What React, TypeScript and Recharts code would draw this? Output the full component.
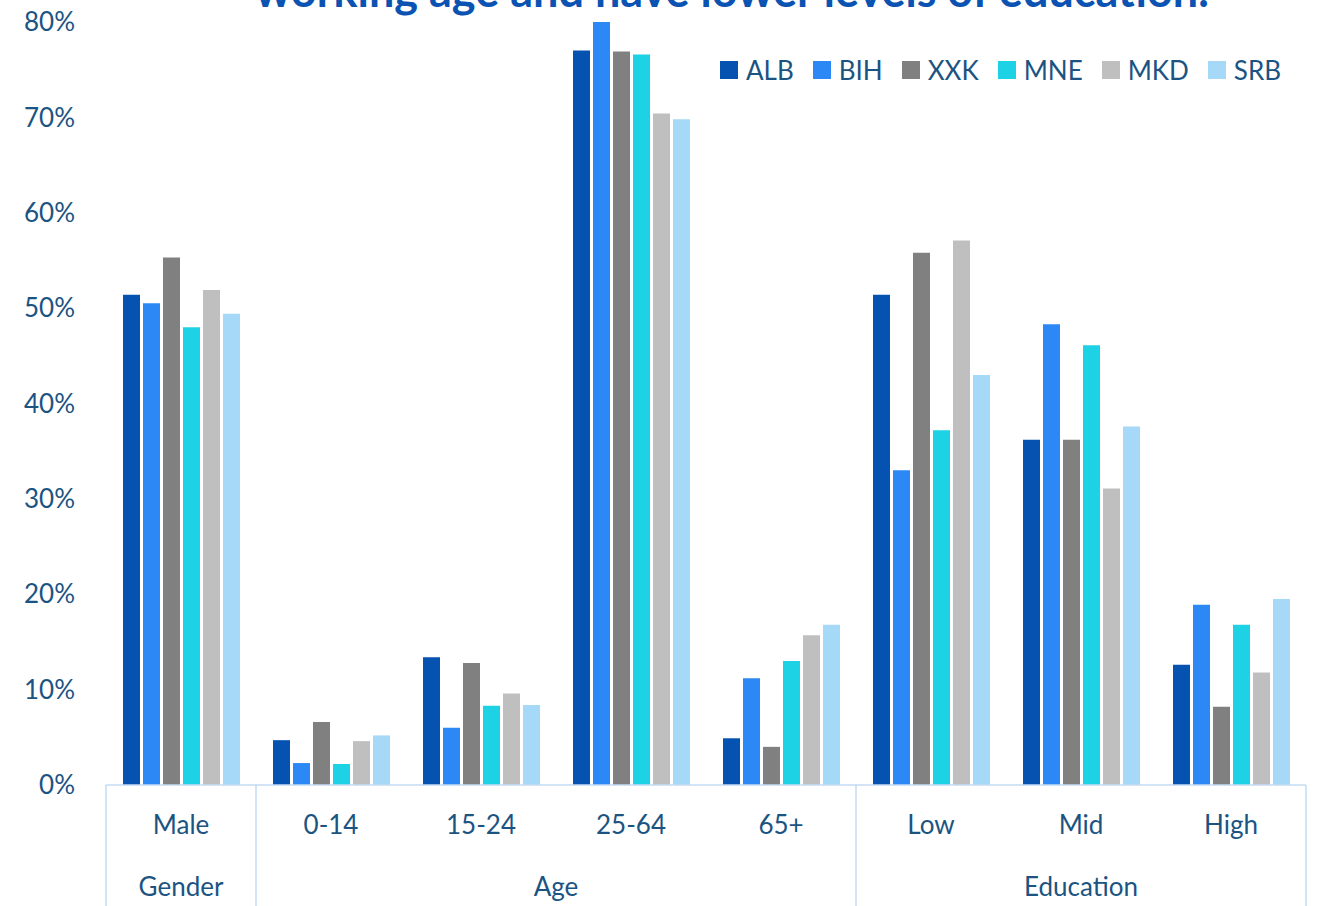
import { BarChart, Bar, XAxis, YAxis } from "recharts";

const categories = ["Male", "0-14", "15-24", "25-64", "65+", "Low", "Mid", "High"];
const groups = ["Gender", "Age", "Age", "Age", "Age", "Education", "Education", "Education"];

const alb = [51.4, 4.7, 13.4, 77.0, 4.9, 51.4, 36.2, 12.6];
const bih = [50.5, 2.3, 6.0, 80.0, 11.2, 33.0, 48.3, 18.9];
const xxk = [55.3, 6.6, 12.8, 76.9, 4.0, 55.8, 36.2, 8.2];
const mne = [48.0, 2.2, 8.3, 76.6, 13.0, 37.2, 46.1, 16.8];
const mkd = [51.9, 4.6, 9.6, 70.4, 15.7, 57.1, 31.1, 11.8];
const srb = [49.4, 5.2, 8.4, 69.8, 16.8, 43.0, 37.6, 19.5];

const yTicks = [0, 10, 20, 30, 40, 50, 60, 70, 80];

const series = [
  { key: "ALB", values: alb, color: "#0552b0" },
  { key: "BIH", values: bih, color: "#2b88f5" },
  { key: "XXK", values: xxk, color: "#808080" },
  { key: "MNE", values: mne, color: "#1dd2e4" },
  { key: "MKD", values: mkd, color: "#bfbfbf" },
  { key: "SRB", values: srb, color: "#a6d8f8" },
];

const data = categories.map((name, i) => {
  const row: Record<string, string | number> = { name };
  series.forEach((s) => {
    row[s.key] = s.values[i];
  });
  return row;
});

const FONT = "Lato, 'Open Sans', sans-serif";
const TEXT = "#1b5482";
const AXIS = "#c5dbf5";
const BAND = 150;
const AXIS_BOTTOM = 121;

// category label under each band, plus the group label and separators below it
function CategoryTick(props: any) {
  const { x, y, payload } = props;
  const i = payload.index;
  const g = groups[i];
  const first = i === 0 || groups[i - 1] !== g;
  const last = i === categories.length - 1;
  let groupLabel = null;
  if (first) {
    let n = 0;
    while (groups[i + n] === g) n++;
    groupLabel = (
      <text x={x + ((n - 1) * BAND) / 2} y={y + 94} textAnchor="middle" dy="0.355em" fill={TEXT} fontSize={26} fontFamily={FONT}>
        {g}
      </text>
    );
  }
  const top = y - 8;
  return (
    <g>
      {first && <line x1={x - BAND / 2} x2={x - BAND / 2} y1={top} y2={top + AXIS_BOTTOM} stroke={AXIS} strokeWidth={1.5} />}
      {last && <line x1={x + BAND / 2} x2={x + BAND / 2} y1={top} y2={top + AXIS_BOTTOM} stroke={AXIS} strokeWidth={1.5} />}
      <text x={x} y={y + 32} textAnchor="middle" dy="0.355em" fill={TEXT} fontSize={26} fontFamily={FONT}>
        {payload.value}
      </text>
      {groupLabel}
    </g>
  );
}

function LegendRow() {
  return (
    <div
      style={{
        position: "absolute",
        top: 54,
        left: 720,
        display: "flex",
        alignItems: "center",
        fontFamily: FONT,
        fontSize: 26,
        color: TEXT,
      }}
    >
      {series.map((s) => (
        <div key={s.key} style={{ display: "flex", alignItems: "center", marginRight: 19 }}>
          <span style={{ display: "inline-block", width: 18, height: 18, background: s.color, marginRight: 8 }} />
          <span>{s.key}</span>
        </div>
      ))}
    </div>
  );
}

export default function App() {
  return (
    <div style={{ position: "absolute", left: 0, top: 0, width: 1317, height: 906, overflow: "hidden", background: "#fff" }}>
      <BarChart
        width={1317}
        height={906}
        data={data}
        margin={{ top: 22, right: 11, bottom: 0, left: 0 }}
        barCategoryGap={17}
        barGap={3}
      >
        <XAxis
          dataKey="name"
          height={AXIS_BOTTOM}
          tickLine={false}
          axisLine={{ stroke: AXIS, strokeWidth: 1.5 }}
          tick={<CategoryTick />}
          interval={0}
        />
        <YAxis
          width={106}
          domain={[0, 80]}
          ticks={yTicks}
          tickFormatter={(v) => `${v}%`}
          axisLine={false}
          tickLine={false}
          tickMargin={25}
          tick={{ fill: TEXT, fontSize: 26, fontFamily: FONT }}
        />
        {series.map((s) => (
          <Bar key={s.key} dataKey={s.key} fill={s.color} isAnimationActive={false} />
        ))}
      </BarChart>
      <svg style={{ position: "absolute", left: 0, top: 0 }} width={1317} height={60}>
        <text x={732} y={7} textAnchor="middle" fill="#0b53b3" fontSize={45} fontWeight={700} fontFamily={FONT}>
          working age and have lower levels of education.
        </text>
      </svg>
      <LegendRow />
    </div>
  );
}
